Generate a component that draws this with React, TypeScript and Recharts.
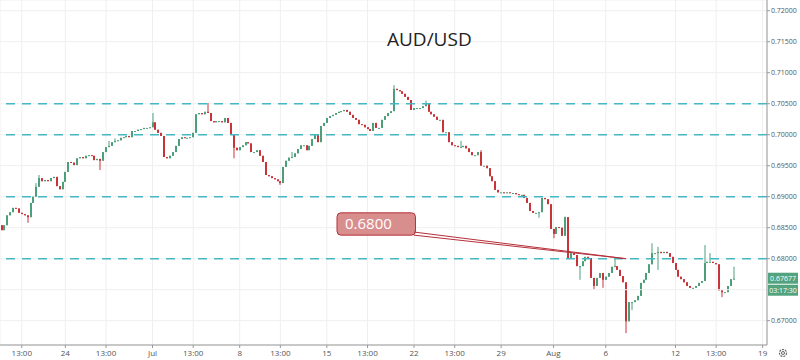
import React from 'react';
import { ComposedChart, Bar, XAxis, YAxis, CartesianGrid, ReferenceLine, ReferenceArea } from 'recharts';

// 4h candle closes, read left to right off the chart
const closes = [
  0.6846, 0.6854, 0.6870, 0.6875, 0.6882, 0.6881, 0.6874, 0.6872, 0.6870, 0.6867,
  0.6890, 0.6900, 0.6916, 0.6930, 0.6925, 0.6927, 0.6925, 0.6930, 0.6932, 0.6917,
  0.6912, 0.6924, 0.6940, 0.6956, 0.6955, 0.6951, 0.6962, 0.6964, 0.6962, 0.6966,
  0.6967, 0.6966, 0.6959, 0.6961, 0.6958, 0.6972, 0.6980, 0.6982, 0.6988, 0.6990,
  0.6991, 0.6995, 0.6996, 0.6998, 0.6996, 0.7006, 0.7006, 0.7008, 0.7009, 0.7011,
  0.7011, 0.7012, 0.7020, 0.7008, 0.7003, 0.6998, 0.6964, 0.6962, 0.6966, 0.6972,
  0.6982, 0.6993, 0.6996, 0.6995, 0.6995, 0.6996, 0.7003, 0.7033, 0.7035, 0.7033,
  0.7037, 0.7035, 0.7022, 0.7020, 0.7022, 0.7022, 0.7020, 0.7027, 0.7019, 0.7001,
  0.6979, 0.6975, 0.6980, 0.6983, 0.6988, 0.6986, 0.6972, 0.6972, 0.6975, 0.6966,
  0.6956, 0.6935, 0.6933, 0.6930, 0.6928, 0.6925, 0.6922, 0.6948, 0.6958, 0.6963,
  0.6964, 0.6970, 0.6977, 0.6983, 0.6983, 0.6975, 0.6982, 0.6993, 0.7000, 0.6988,
  0.7014, 0.7019, 0.7027, 0.7030, 0.7032, 0.7035, 0.7037, 0.7038, 0.7040, 0.7037,
  0.7032, 0.7027, 0.7024, 0.7017, 0.7016, 0.7012, 0.7009, 0.7006, 0.7019, 0.7011,
  0.7011, 0.7024, 0.7030, 0.7035, 0.7038, 0.7074, 0.7072, 0.7070, 0.7066, 0.7061,
  0.7056, 0.7040, 0.7043, 0.7043, 0.7043, 0.7046, 0.7051, 0.7037, 0.7033, 0.7029,
  0.7024, 0.7024, 0.7004, 0.7004, 0.6988, 0.6983, 0.6982, 0.6980, 0.6980, 0.6982,
  0.6978, 0.6972, 0.6967, 0.6967, 0.6972, 0.6950, 0.6950, 0.6946, 0.6933, 0.6925,
  0.6911, 0.6907, 0.6907, 0.6906, 0.6907, 0.6906, 0.6906, 0.6904, 0.6903, 0.6903,
  0.6898, 0.6890, 0.6877, 0.6874, 0.6874, 0.6875, 0.6898, 0.6896, 0.6888, 0.6848,
  0.6840, 0.6851, 0.6850, 0.6837, 0.6867, 0.6801, 0.6809, 0.6806, 0.6788, 0.6788,
  0.6796, 0.6803, 0.6801, 0.6769, 0.6756, 0.6769, 0.6777, 0.6766, 0.6771, 0.6777,
  0.6787, 0.6788, 0.6782, 0.6772, 0.6762, 0.6699, 0.6730, 0.6730, 0.6733, 0.6740,
  0.6761, 0.6766, 0.6777, 0.6791, 0.6809, 0.6809, 0.6811, 0.6809, 0.6811, 0.6809,
  0.6803, 0.6793, 0.6782, 0.6771, 0.6767, 0.6762, 0.6756, 0.6753, 0.6753, 0.6756,
  0.6761, 0.6764, 0.6793, 0.6795, 0.6795, 0.6793, 0.6791, 0.6749, 0.6746, 0.6746,
  0.6756, 0.6767, 0.67677,
];
const firstOpen = 0.6854;

// wicks that reach past the candle body: [candle index, price]
const wickHighs: [number, number][] = [
  [12, 0.6922], [13, 0.6935], [37, 0.6990], [39, 0.6994], [52, 0.7035], [71, 0.7051],
  [100, 0.6972], [135, 0.7080], [146, 0.7055], [158, 0.6990], [165, 0.6975], [194, 0.6868],
  [211, 0.6801], [224, 0.6825], [226, 0.6819], [242, 0.6822], [244, 0.6809], [252, 0.6787],
];
const wickLows: [number, number][] = [
  [9, 0.6858], [34, 0.6943], [80, 0.6962], [96, 0.6919], [185, 0.6866], [190, 0.6833],
  [199, 0.6766], [204, 0.6750], [207, 0.6753], [215, 0.6680], [217, 0.6717], [226, 0.6782],
  [248, 0.6738],
];

const slotCount = 264;
const tickIndex = [7, 22, 36, 52, 66, 82, 96, 112, 126, 142, 156, 172, 190, 208, 232, 246, 262];
const tickLabels = ['13:00', '24', '13:00', 'Jul', '13:00', '8', '13:00', '15', '13:00', '22', '13:00', '29', 'Aug', '6', '12', '13:00', '19'];
// 0.675 sits under the live price tag, so it only gets a grid line
const priceTicks = [0.67, 0.68, 0.685, 0.69, 0.695, 0.7, 0.705, 0.71, 0.715, 0.72];
const hiddenGrid = [0.675];
const levels = [0.705, 0.7, 0.69, 0.68];
const lastPrice = 0.67677;
const countdown = '03:17:30';
const calloutText = '0.6800';

const UP = '#4c9f7a';
const DOWN = '#c9333a';

const hiMap = new Map(wickHighs);
const loMap = new Map(wickLows);

const data = Array.from({ length: slotCount }, (_, i) => {
  if (i >= closes.length) return { i };
  const open = i === 0 ? firstOpen : closes[i - 1];
  const close = closes[i];
  const high = Math.max(open, close, hiMap.get(i) ?? 0);
  const low = Math.min(open, close, loMap.get(i) ?? 1);
  return { i, open, close, high, low, range: [low, high] };
});

const Candle = (props: any) => {
  const { x, y, width, height, payload } = props;
  if (!payload || payload.open == null) return null;
  const { open, close, high, low } = payload;
  const ppu = high > low ? height / (high - low) : 0;
  const yOf = (p: number) => y + (high - p) * ppu;
  const color = close >= open ? UP : DOWN;
  const bx = Math.round(x + width / 2 - 1);
  const top = yOf(Math.max(open, close));
  const bh = Math.max(1, yOf(Math.min(open, close)) - top);
  return (
    <g>
      <line x1={bx + 1} x2={bx + 1} y1={y} y2={y + height} stroke={color} strokeWidth={1} />
      <rect x={bx} y={top} width={2} height={bh} fill={color} />
    </g>
  );
};

const PriceTag = (props: any) => {
  const vb = props.viewBox;
  if (!vb) return null;
  const x = vb.x + vb.width + 1;
  const y = vb.y;
  return (
    <g>
      <rect x={x} y={y - 6} width={30} height={11} fill="#53a37f" />
      <text x={x + 15} y={y + 2.5} textAnchor="middle" fontSize={7} fill="#fff">{lastPrice.toFixed(5)}</text>
      <rect x={x} y={y + 6} width={30} height={11} fill="#53a37f" />
      <text x={x + 15} y={y + 14.5} textAnchor="middle" fontSize={7} fill="#fff">{countdown}</text>
    </g>
  );
};

const CalloutBox = (props: any) => {
  const { x, y, width, height } = props;
  return (
    <g>
      <rect x={x} y={y} width={width} height={height} rx={4} fill="#d98e8e" stroke="#b5303a" strokeWidth={1} />
      <text x={x + 8} y={y + height / 2 + 5} fill="#fff" fontSize={15}>{calloutText}</text>
    </g>
  );
};

export default function App() {
  return (
    <div style={{ position: 'absolute', left: 0, top: 0, width: 800, height: 360, background: '#fff', fontFamily: "'Open Sans', sans-serif" }}>
      <ComposedChart width={800} height={360} data={data} margin={{ top: 0, right: 0, left: 0, bottom: 0 }} barCategoryGap={0}>
        <CartesianGrid stroke="#efefef" />
        {hiddenGrid.map((g) => (
          <ReferenceLine key={g} y={g} stroke="#efefef" />
        ))}
        <XAxis
          dataKey="i"
          ticks={tickIndex}
          interval={0}
          tickFormatter={(v) => tickLabels[tickIndex.indexOf(v)]}
          tick={{ fontSize: 8, fill: '#555' }}
          tickLine={{ stroke: '#999' }}
          axisLine={{ stroke: '#999' }}
          tickSize={3}
          height={15}
        />
        <YAxis
          orientation="right"
          type="number"
          domain={[0.66608, 0.72173]}
          allowDataOverflow
          ticks={priceTicks}
          tickFormatter={(v) => v.toFixed(5)}
          tick={{ fontSize: 7, fill: '#555' }}
          tickLine={{ stroke: '#999' }}
          axisLine={{ stroke: '#999' }}
          tickSize={3}
          tickMargin={1}
          width={33}
        />
        {levels.map((lv) => (
          <ReferenceLine key={lv} y={lv} stroke="#45b8c4" strokeWidth={1.5} strokeDasharray="9 7" />
        ))}
        <Bar dataKey="range" shape={<Candle />} isAnimationActive={false} />
        <ReferenceLine segment={[{ x: 142, y: 0.6843 }, { x: 215, y: 0.6800 }]} stroke="#b5303a" strokeWidth={1} />
        <ReferenceLine segment={[{ x: 142, y: 0.6838 }, { x: 215, y: 0.6800 }]} stroke="#b5303a" strokeWidth={1} />
        <ReferenceArea x1={116} x2={142} y1={0.6838} y2={0.6874} shape={<CalloutBox />} />
        <ReferenceLine y={lastPrice} stroke="none" label={<PriceTag />} />
      </ComposedChart>
      <div style={{ position: 'absolute', left: 387, top: 26, fontSize: 19, color: '#222' }}>AUD/USD</div>
      <svg style={{ position: 'absolute', left: 777, top: 347 }} width={12} height={12}>
        <circle cx={6} cy={6} r={3.5} fill="none" stroke="#666" strokeWidth={1.2} strokeDasharray="2 1" />
        <circle cx={6} cy={6} r={1.5} fill="none" stroke="#666" strokeWidth={1} />
      </svg>
    </div>
  );
}
